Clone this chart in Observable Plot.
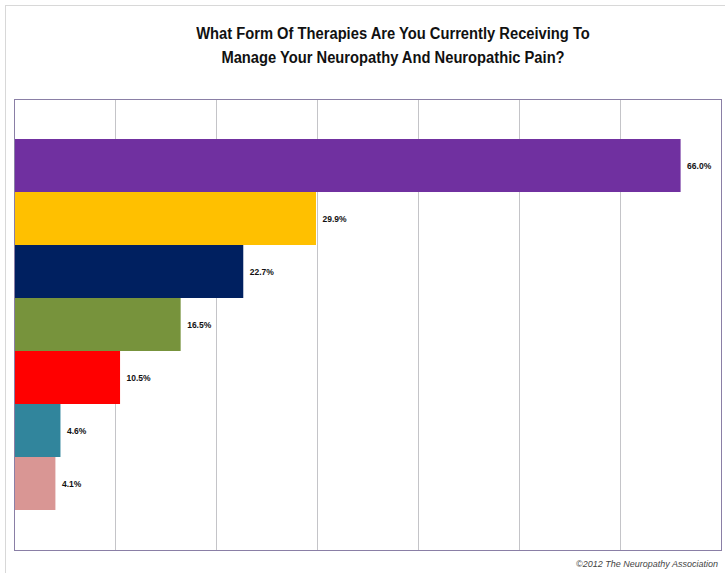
<!DOCTYPE html>
<html>
<head>
<meta charset="utf-8">
<script src="https://cdn.jsdelivr.net/npm/d3@7"></script>
<script src="https://cdn.jsdelivr.net/npm/@observablehq/plot@0.6"></script>
<style>
  html, body { margin: 0; padding: 0; background: #fff; }
  #wrap { position: relative; width: 725px; height: 573px; overflow: hidden; }
  #border { position: absolute; left: 5px; top: 5px; width: 730px; height: 580px; border: 1px solid #d8d8d8; box-sizing: border-box; }
  #title { position: absolute; left: 0; top: 22px; width: 786px; text-align: center;
    font-family: "Liberation Sans", Arial, sans-serif;
    font-weight: bold; font-size: 16px; line-height: 24px; color: #111;
    transform: scaleX(0.92); transform-origin: 393px 0; }
  #chart { position: absolute; left: 0; top: 90px; }
  #caption { position: absolute; right: 7px; top: 559px; font-family: "Liberation Sans", Arial, sans-serif;
    font-style: italic; font-size: 9px; color: #444; }
</style>
</head>
<body>
<div id="wrap">
  <div id="border"></div>
  <div id="title">What Form Of Therapies Are You Currently Receiving To<br>Manage Your Neuropathy And Neuropathic Pain?</div>
  <div id="chart"></div>
  <div id="caption">©2012 The Neuropathy Association</div>
</div>
<script>
const categories = ["Therapy 1", "Therapy 2", "Therapy 3", "Therapy 4", "Therapy 5", "Therapy 6", "Therapy 7"];
const values = [66.0, 29.9, 22.7, 16.5, 10.5, 4.6, 4.1];
const labels = ["66.0%", "29.9%", "22.7%", "16.5%", "10.5%", "4.6%", "4.1%"];
const colors = ["#7030A0", "#FFC000", "#002060", "#77933C", "#FF0000", "#31859C", "#D99694"];
const xTicks = [0, 10, 20, 30, 40, 50, 60, 70];

const data = categories.map((c, i) => ({category: c, value: values[i], label: labels[i]}));

const chart = Plot.plot({
  width: 725,
  height: 483,
  marginLeft: 14,
  marginRight: 4,
  marginTop: 9,
  marginBottom: 23,
  x: {domain: [0, 70], axis: null},
  y: {domain: categories, axis: null, paddingInner: 0, paddingOuter: 0.755, round: false},
  color: {domain: categories, range: colors},
  style: {fontFamily: "Liberation Sans, Arial, sans-serif"},
  marks: [
    Plot.ruleX(xTicks, {stroke: "#c4c4c8", strokeWidth: 1}),
    Plot.barX(data, {x: "value", y: "category", fill: "category", inset: 0}),
    Plot.text(data, {x: "value", y: "category", text: "label", dx: 6, textAnchor: "start",
      fontSize: 8.5, fontWeight: "bold", fill: "#111"}),
    Plot.frame({stroke: "#8a7fa6", strokeWidth: 1})
  ]
});
document.getElementById("chart").appendChild(chart);
</script>
</body>
</html>
